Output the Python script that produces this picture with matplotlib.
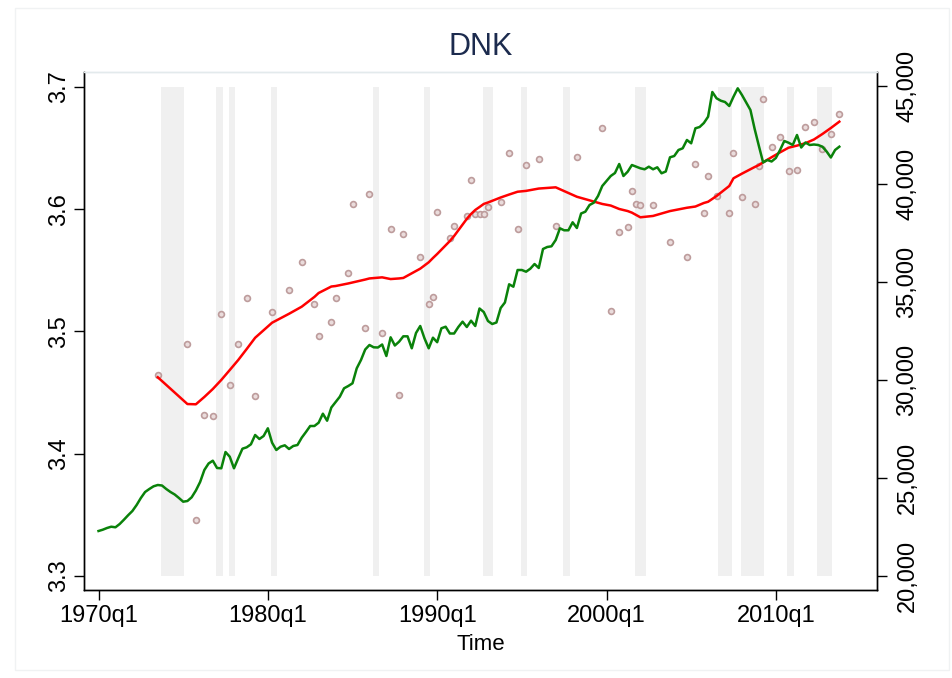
import matplotlib
matplotlib.use("Agg")
import matplotlib.pyplot as plt
from matplotlib.patches import Rectangle
from matplotlib.ticker import FuncFormatter

plt.rcParams['font.family'] = ['Liberation Sans', 'DejaVu Sans']

title = "DNK"
x_label = "Time"

# quarter index 0 = 1970q1
x_ticks = [0, 40, 80, 120, 160]
x_tick_labels = ["1970q1", "1980q1", "1990q1", "2000q1", "2010q1"]
left_ticks = [3.3, 3.4, 3.5, 3.6, 3.7]
right_ticks = [20000, 25000, 30000, 35000, 40000, 45000]

# GDP per capita (right axis), quarterly from 1970q1
gdp = [
    22296, 22362, 22449, 22515, 22485, 22653, 22872, 23102, 23316, 23622,
    23980, 24286, 24439, 24576, 24643, 24617, 24439, 24286, 24158, 23980,
    23791, 23827, 24015, 24362, 24796, 25408, 25740, 25883, 25510, 25495,
    26326, 26087, 25495, 26005, 26495, 26566, 26719, 27194, 26990, 27143,
    27536, 26801, 26429, 26597, 26668, 26480, 26633, 26684, 27056, 27347,
    27653, 27653, 27821, 28281, 27923, 28597, 28877, 29148, 29576, 29694,
    29832, 30597, 31020, 31556, 31786, 31668, 31658, 31811, 31224, 32178,
    31760, 31954, 32229, 32229, 31617, 32398, 32755, 32127, 31617, 32158,
    31929, 32638, 32719, 32372, 32372, 32704, 32975, 32704, 33026, 32755,
    33648, 33469, 33010, 32857, 32934, 33673, 33954, 34883, 34760, 35612,
    35612, 35525, 35678, 35918, 35714, 36684, 36786, 36821, 37143, 37740,
    37638, 37638, 38046, 37755, 38495, 38587, 38929, 39046, 39388, 39898,
    40153, 40408, 40561, 41020, 40408, 40627, 40969, 40883, 40801, 40750,
    40883, 40750, 40852, 40546, 40638, 41362, 41428, 41735, 41821, 42245,
    42076, 42842, 42908, 43112, 43434, 44694, 44372, 44250, 44183, 43979,
    44454, 44882, 44541, 44158, 43775, 42806, 41939, 41097, 41224, 41148,
    41326, 41735, 42194, 42107, 41990, 42500, 41862, 42117, 41990, 42015,
    41990, 41903, 41658, 41352, 41735, 41903,
]

# survey observations (left axis)
survey_q = [14, 21, 23, 25, 27, 29, 31, 33, 35, 37,
            41, 45, 48, 51, 52, 55, 56, 59, 60, 63,
            64, 67, 69, 71, 72, 76, 78, 79, 80, 83,
            84, 87, 88, 89, 90, 91, 92, 95, 97, 99,
            101, 104, 108, 113, 119, 121, 123, 125, 126, 127,
            128, 131, 135, 139, 141, 143, 144, 146, 149, 150,
            152, 155, 156, 157, 159, 161, 163, 165, 167, 169,
            171, 173, 175]
survey_vals = [3.464, 3.490, 3.346, 3.432, 3.431, 3.514, 3.456, 3.490, 3.527, 3.447,
               3.516, 3.534, 3.557, 3.522, 3.496, 3.508, 3.527, 3.548, 3.604, 3.503,
               3.612, 3.499, 3.584, 3.448, 3.580, 3.561, 3.522, 3.528, 3.598, 3.576,
               3.586, 3.594, 3.624, 3.596, 3.596, 3.596, 3.602, 3.606, 3.646, 3.584,
               3.636, 3.641, 3.586, 3.643, 3.666, 3.517, 3.581, 3.585, 3.615, 3.604,
               3.603, 3.603, 3.573, 3.561, 3.637, 3.597, 3.627, 3.611, 3.597, 3.646,
               3.610, 3.604, 3.635, 3.690, 3.651, 3.659, 3.631, 3.632, 3.667, 3.671,
               3.649, 3.661, 3.678]
smooth_vals = [3.4625, 3.4406, 3.4404, 3.4464, 3.4529, 3.4603, 3.4684, 3.4766, 3.4856, 3.4948,
               3.5071, 3.5144, 3.5202, 3.5282, 3.5314, 3.5367, 3.5371, 3.5392, 3.5400, 3.5424,
               3.5433, 3.5442, 3.5428, 3.5433, 3.5437, 3.5513, 3.5565, 3.5600, 3.5633, 3.5739,
               3.5780, 3.5920, 3.5960, 3.5993, 3.6017, 3.6042, 3.6054, 3.6095, 3.6119, 3.6142,
               3.6149, 3.6168, 3.6178, 3.6101, 3.6042, 3.6029, 3.6001, 3.5984, 3.5971, 3.5952,
               3.5933, 3.5944, 3.5984, 3.6011, 3.6021, 3.6050, 3.6060, 3.6107, 3.6189, 3.6252,
               3.6290, 3.6344, 3.6360, 3.6383, 3.6424, 3.6464, 3.6502, 3.6519, 3.6539, 3.6569,
               3.6614, 3.6663, 3.6715]

# recession shading (quarter positions)
recession_start = [14.8, 27.8, 30.8, 40.7, 64.8, 76.9, 90.9, 99.8, 109.7, 126.8, 146.4, 151.8, 162.6, 169.8]
recession_end = [20.2, 29.4, 32.2, 42.1, 66.2, 78.3, 93.2, 101.2, 111.4, 129.4, 149.7, 157.2, 164.3, 173.3]
band_low, band_high = 3.3, 3.7

W, H = 952, 678
fig = plt.figure(figsize=(W / 100, H / 100), dpi=100)
fig.patch.set_facecolor("white")

# faint outer frame
fig.patches.append(Rectangle((15 / W, 1 - 670 / H), (949 - 15) / W, (670 - 8) / H,
                             transform=fig.transFigure, fill=False,
                             edgecolor="#f0f2f3", linewidth=1))

L, R, T, B = 84, 877, 72, 590
ax = fig.add_axes([L / W, 1 - B / H, (R - L) / W, (B - T) / H])
ax.set_facecolor("white")

for s, e in zip(recession_start, recession_end):
    ax.bar(s, band_high - band_low, bottom=band_low, width=e - s, align="edge",
           color="#f0f0f0", edgecolor="none", zorder=1)

ax.plot(survey_q, survey_vals, linestyle="none", marker="o", markersize=4.2,
        markerfacecolor="#eadcdc", markeredgecolor="#bd9c9c", markeredgewidth=1.2, zorder=2)
ax.plot(survey_q, smooth_vals, color="#ff0000", linewidth=1.8, zorder=3)

ax.set_xlim(-3.43, 183.9)
ax.set_ylim(3.28855, 3.7121)
ax.set_xticks(x_ticks)
ax.set_xticklabels(x_tick_labels)
ax.set_yticks(left_ticks)
ax.set_yticklabels([f"{v:.1f}" for v in left_ticks], rotation=90, va="center")
ax.tick_params(axis="x", length=7, width=1, labelsize=17, pad=4)
ax.tick_params(axis="y", length=7, width=1, labelsize=17, pad=3)
ax.set_xlabel(x_label, fontsize=16, labelpad=5)

ax2 = ax.twinx()
ax2.plot(range(len(gdp)), gdp, color="#0a820a", linewidth=1.8, zorder=4)
ax2.set_ylim(19286, 45714)
ax2.set_yticks(right_ticks)
ax2.yaxis.set_major_formatter(FuncFormatter(lambda v, p: f"{int(v):,}"))
for lab in ax2.get_yticklabels():
    lab.set_rotation(90)
    lab.set_va("center")
ax2.tick_params(axis="y", length=7, width=1, labelsize=17, pad=7)

for a in (ax, ax2):
    a.spines["top"].set_color("#e3eaec")
    a.spines["top"].set_linewidth(1)
    for sp in ("left", "right", "bottom"):
        a.spines[sp].set_color("black")
        a.spines[sp].set_linewidth(1)

fig.text((L + R) / 2 / W, 1 - 47 / H, title, ha="center", va="center",
         fontsize=22, color="#1c2b4e")

fig.savefig("out.png", dpi=100)
